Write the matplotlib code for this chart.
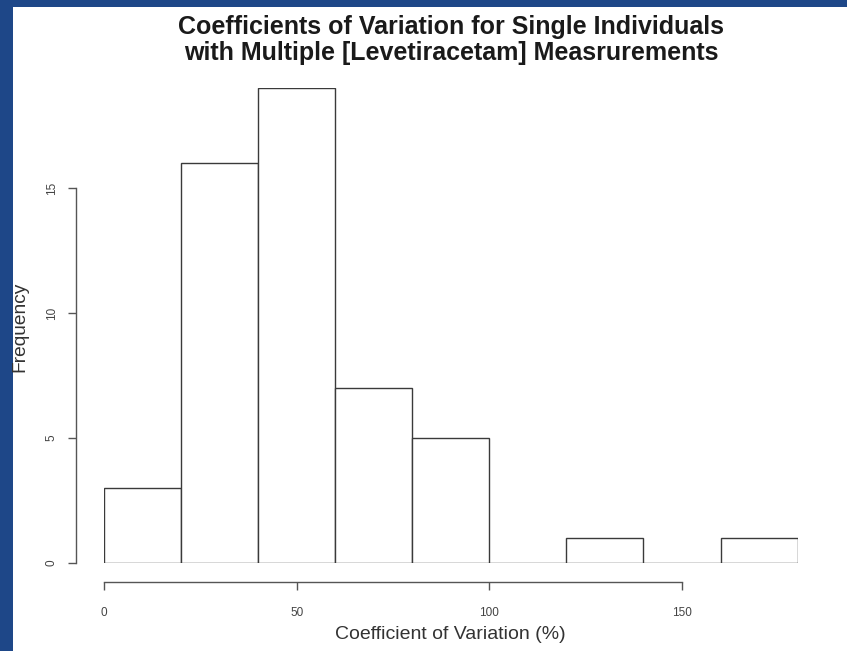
import matplotlib
matplotlib.use("Agg")
import matplotlib.pyplot as plt
from matplotlib.patches import Rectangle

# histogram data
bin_edges = [0, 20, 40, 60, 80, 100, 120, 140, 160, 180]
counts = [3, 16, 19, 7, 5, 0, 1, 0, 1]
x_ticks = [0, 50, 100, 150]
y_ticks = [0, 5, 10, 15]
title_lines = ["Coefficients of Variation for Single Individuals",
               "with Multiple [Levetiracetam] Measrurements"]

W, H = 847, 651
plt.rcParams['font.family'] = ['Liberation Sans', 'DejaVu Sans']
fig = plt.figure(figsize=(W / 100, H / 100), dpi=100, facecolor="#1e4788")

# white slide area (blue frame on the left and top)
fig.patches.append(Rectangle((13 / W, 0), 1 - 13 / W, 1 - 7 / H,
                             transform=fig.transFigure, facecolor="white",
                             edgecolor="none", zorder=-1))

# axes placed so that data x 0..180 and y 0..19 land where the original has them
x0, x1 = 104, 797.6
y0, y1 = 563, 88
ax = fig.add_axes([x0 / W, (H - y0) / H, (x1 - x0) / W, (y0 - y1) / H])
ax.set_facecolor("none")
ax.set_xlim(0, 180)
ax.set_ylim(0, 19)

lefts = bin_edges[:-1]
widths = [b - a for a, b in zip(bin_edges[:-1], bin_edges[1:])]
ax.bar(lefts, counts, width=widths, align="edge", facecolor="white",
       edgecolor="#3a3a3a", linewidth=1.0)

for s in ["top", "right"]:
    ax.spines[s].set_visible(False)
ax.spines["bottom"].set_position(("outward", 19 * 0.72))
ax.spines["bottom"].set_bounds(0, 150)
ax.spines["left"].set_position(("outward", 28 * 0.72))
ax.spines["left"].set_bounds(0, 15)
for s in ["bottom", "left"]:
    ax.spines[s].set_color("#555555")
    ax.spines[s].set_linewidth(1.0)

ax.set_xticks(x_ticks)
ax.set_yticks(y_ticks)
ax.tick_params(axis="both", colors="#555555", length=6, width=1.0,
               labelsize=8.5, labelcolor="#444444")
ax.tick_params(axis="x", pad=12)
ax.tick_params(axis="y", pad=7)
for lab in ax.get_yticklabels():
    lab.set_rotation(90)
    lab.set_va("center")

ax.set_xlabel("Coefficient of Variation (%)", fontsize=14, color="#333333", labelpad=5)
fig.text(20 / W, 1 - 327 / H, "Frequency", rotation=90, fontsize=13.8,
         color="#333333", ha="center", va="center")

for line, base in zip(title_lines, [34, 60]):
    fig.text(451 / W, 1 - base / H, line, ha="center", va="baseline",
             fontsize=18, fontweight="bold", color="#1a1a1a")

fig.savefig("out.png", dpi=100, facecolor=fig.get_facecolor())
